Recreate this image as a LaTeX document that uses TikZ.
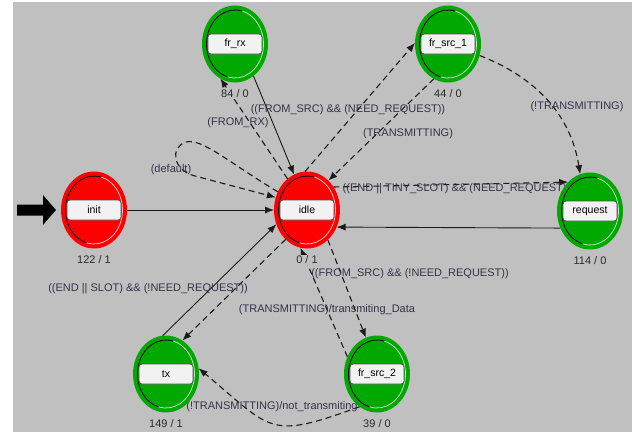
\documentclass[tikz,border=0pt]{standalone}
\usepackage{fontspec}
\setmainfont{Liberation Sans}
\usetikzlibrary{arrows.meta,calc,shapes.geometric}
\pgfdeclarelayer{back}
\pgfdeclarelayer{edges}
\pgfsetlayers{back,edges,main}
\definecolor{bggrey}{HTML}{C0C0C0}
\definecolor{stred}{HTML}{FF0000}
\definecolor{stgreen}{HTML}{00A800}
\definecolor{lblcol}{HTML}{34344A}
\definecolor{cntcol}{HTML}{2A2A2A}
\definecolor{edgecol}{HTML}{1A1A1A}
\definecolor{boxfill}{HTML}{F2F2F2}
\definecolor{boxdraw}{HTML}{505050}
\newcommand{\lblfont}{\fontsize{11}{13}\selectfont}
\newcommand{\boxfont}{\fontsize{10.5}{12}\selectfont}
% name, x, y, colour, label, counts
\newcommand{\fsmstate}[6]{%
  \node[statering, fill=#4, draw=#4] (#1) at (#2,#3) {};
  \draw[black, line width=0.8pt] (#1.center) ++(75:28.5pt and 34pt)
     arc[start angle=75, end angle=255, x radius=28.5pt, y radius=34pt];
  \draw[white!75!#4, line width=0.8pt] (#1.center) ++(255:28.5pt and 34pt)
     arc[start angle=255, end angle=435, x radius=28.5pt, y radius=34pt];
  \node[namebox] (#1-name) at (#1.center) {#5};
  \node[cntlbl] (#1-count) at ($(#1.center)+(0,50)$) {#6};
}
\begin{document}
\begin{tikzpicture}[x=1pt,y=-1pt,
  statering/.style={ellipse, minimum width=63pt, minimum height=74pt,
     line width=3pt, inner sep=0pt},
  namebox/.style={draw=boxdraw, fill=boxfill, line width=0.8pt,
     rounded corners=3pt, minimum width=54pt, minimum height=20pt,
     inner sep=0pt, font=\boxfont, text=black},
  cntlbl/.style={font=\lblfont, text=cntcol, fill=bggrey, inner sep=1pt},
  lbl/.style={font=\lblfont, text=lblcol, inner sep=0.5pt},
  sedge/.style={draw=edgecol, line width=0.9pt, -{Latex[length=9pt,width=7pt]}},
  dedge/.style={draw=edgecol, line width=1.1pt, dash pattern=on 6pt off 4pt,
     -{Latex[length=9pt,width=7pt]}},
]
\useasboundingbox (0,0) rectangle (632,432);
\begin{pgfonlayer}{back}
  \fill[white] (0,0) rectangle (632,432);
  \fill[bggrey] (13,2) rectangle (632,432);
\end{pgfonlayer}

\fsmstate{init}{94}{210}{stred}{init}{122 / 1}
\fsmstate{idle}{307}{210}{stred}{idle}{0 / 1}
\fsmstate{request}{590}{211}{stgreen}{request}{114 / 0}
\fsmstate{frrx}{235}{44}{stgreen}{fr\_rx}{84 / 0}
\fsmstate{frsrc1}{448}{44}{stgreen}{fr\_src\_1}{44 / 0}
\fsmstate{tx}{166}{374}{stgreen}{tx}{149 / 1}
\fsmstate{frsrc2}{377}{374}{stgreen}{fr\_src\_2}{39 / 0}

% entry arrow
\coordinate (entry) at (17,210);
\fill[black] (entry) ++(0,-5.5) -- ++(26,0) -- ++(0,-9.5) -- ++(13,15)
   -- ++(-13,15) -- ++(0,-9.5) -- ++(-26,0) -- cycle;

\begin{pgfonlayer}{edges}
  \draw[sedge] (init.east) -- (idle.west);
  \draw[dedge] (idle.148) .. controls (228,162) and (202,138) .. (186,142)
     .. controls (170,147) and (172,170) .. (195,176) -- (idle.158);
  \draw[sedge] (frrx.-60) -- (idle.110);
  \draw[dedge] (idle.122) -- (frrx.247);
  \draw[dedge] (idle.93) -- (frsrc1.178);
  \draw[dedge] (frsrc1.248) -- (idle.54);
  \draw[dedge] (frsrc1.-20) .. controls (530,75) and (570,110) .. (request.105);
  \draw[dedge] (idle.41) -- (request.127);
  \draw[sedge] (request.210) -- (idle.-30);
  \draw[dedge] (idle.-55) -- (frsrc2.107);
  \draw[dedge] (frsrc2.150) -- (idle.260);
  \draw[dedge] (frsrc2.242) to[out=200, in=-40, looseness=1.5] (tx.10);
  \draw[sedge] (tx.95) -- (idle.205);
  \draw[dedge] (idle.234) -- (tx.64);

  \node[lbl] (l-default) at (171,170) {(default)};
  \node[lbl] (l-fromrx) at (238,123) {(FROM\_RX)};
  \node[lbl] (l-src1) at (348,110) {((FROM\_SRC) \&\& (NEED\_REQUEST))};
  \node[lbl] (l-trans) at (408,134) {(TRANSMITTING)};
  \node[lbl] (l-ntrans) at (577,107) {(!TRANSMITTING)};
  \node[lbl, anchor=west] (l-req) at (342,189) {((END || TINY\_SLOT) \&\& (NEED\_REQUEST))};
  \node[lbl] (l-src2) at (410,274) {((FROM\_SRC) \&\& (!NEED\_REQUEST))};
  \node[lbl] (l-data) at (327,310) {(TRANSMITTING)/transmiting\_Data};
  \node[lbl] (l-tx) at (148,289) {((END || SLOT) \&\& (!NEED\_REQUEST))};
  \node[lbl] (l-nottx) at (272,407) {(!TRANSMITTING)/not\_transmiting};
\end{pgfonlayer}
\end{tikzpicture}
\end{document}
